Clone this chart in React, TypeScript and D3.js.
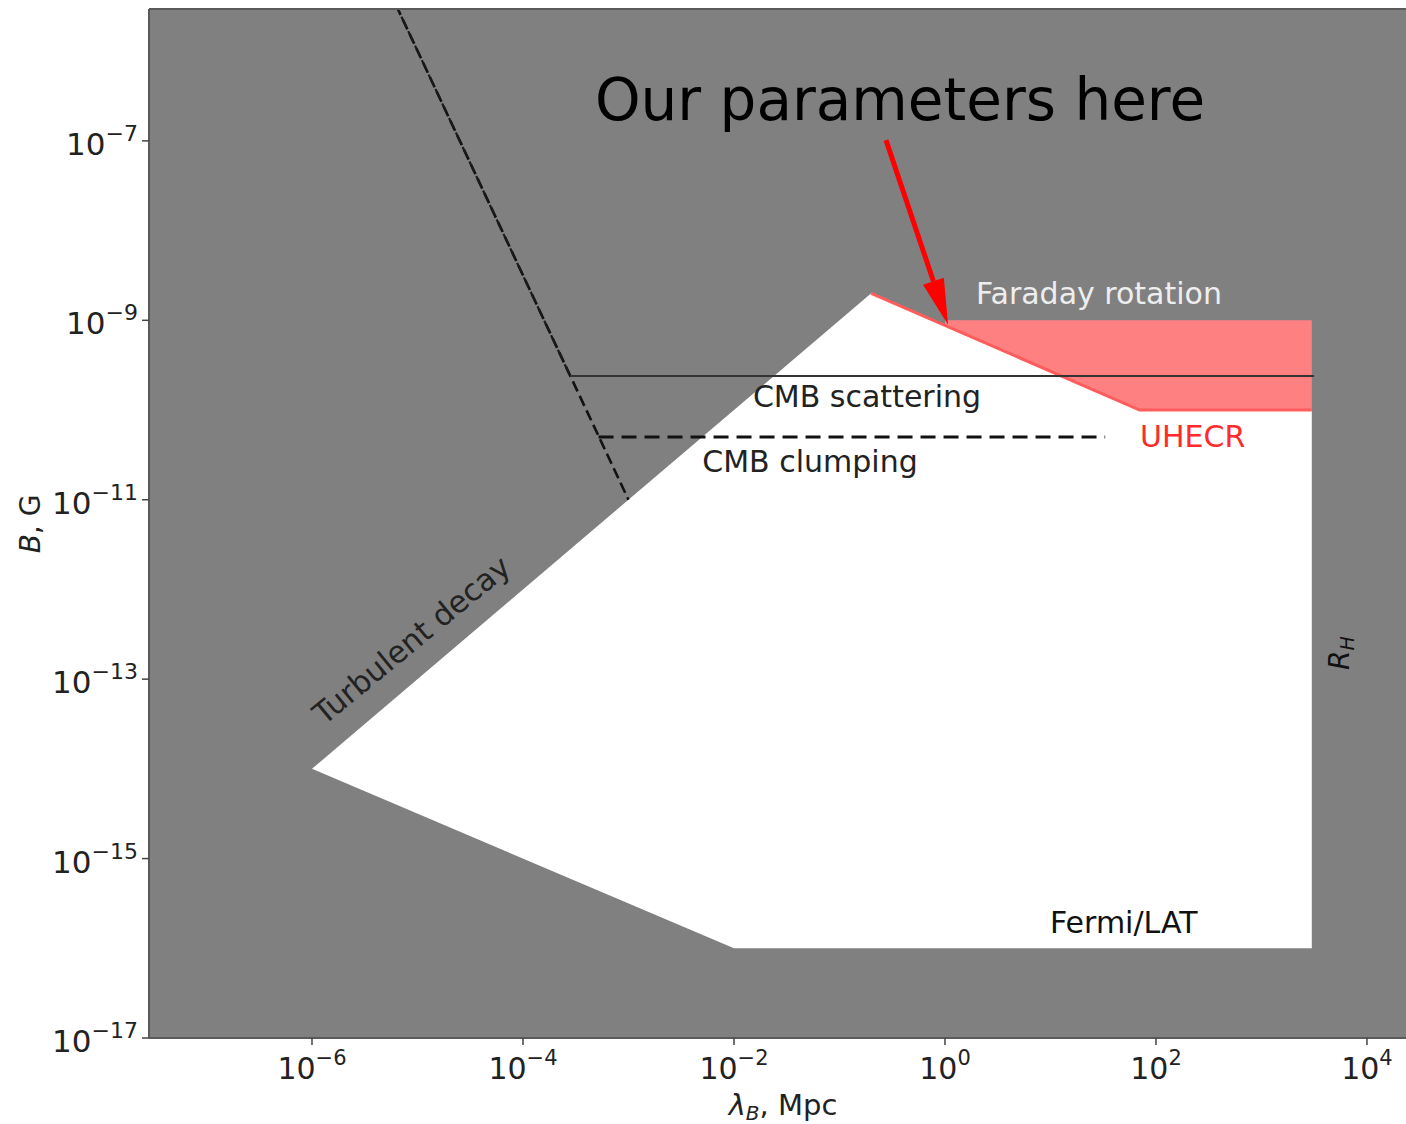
import React from "react";
import * as d3 from "d3";

// ---- data (x: lambda_B in Mpc, y: B in G) ----
const allowedRegion: [number, number][] = [
  [1e-6, 1e-14],
  [0.2, 2e-9],
  [70, 1e-10],
  [3000, 1e-10],
  [3000, 1e-16],
  [1e-2, 1e-16],
];
const uhecrLine: [number, number][] = [
  [0.2, 2e-9],
  [70, 1e-10],
  [3000, 1e-10],
];
const faradayBand: [number, number][] = [
  [1, 1e-9],
  [3000, 1e-9],
  [3000, 1e-10],
  [70, 1e-10],
  [1, 8.8e-10],
];
const dampingLineA: [number, number][] = [
  [4e-6, 1e-5],
  [1e-3, 1e-11],
];
const dampingLineB: [number, number][] = [
  [4e-6, 1e-5],
  [2.8e-4, 2.4e-10],
];
const cmbScattering: [number, number][] = [
  [2.8e-4, 2.4e-10],
  [3150, 2.4e-10],
];
const cmbClumping: [number, number][] = [
  [5.2e-4, 5e-11],
  [33, 5e-11],
];
const arrowTail: [number, number] = [0.276, 1.02e-7];
const arrowTip: [number, number] = [1.07, 8.9e-10];

const xTickExps = [-6, -4, -2, 0, 2, 4];
const yTickExps = [-17, -15, -13, -11, -9, -7];

const FONT = "DejaVu Sans, sans-serif";

export default function App() {
  const left = 149, right = 1406, top = 9, bottom = 1038;
  const x = d3.scaleLog().domain([Math.pow(10, -7.545), Math.pow(10, 4.37)]).range([left, right]);
  const y = d3.scaleLog().domain([1e-17, Math.pow(10, -5.53)]).range([bottom, top]);

  const line = d3
    .line<[number, number]>()
    .x((d) => x(d[0]))
    .y((d) => y(d[1]));
  const poly = (pts: [number, number][]) => line(pts) + "Z";

  // arrow geometry
  const tx = x(arrowTail[0]), ty = y(arrowTail[1]);
  const hx = x(arrowTip[0]), hy = y(arrowTip[1]);
  const ang = Math.atan2(hy - ty, hx - tx);
  const headLen = 46, headHalf = 11;
  const bx = hx - headLen * Math.cos(ang), by = hy - headLen * Math.sin(ang);
  const px = -Math.sin(ang), py = Math.cos(ang);
  const head = `M${hx},${hy}L${bx + headHalf * px},${by + headHalf * py}L${bx - headHalf * px},${by - headHalf * py}Z`;

  return (
    <svg
      width={1406}
      height={1124}
      style={{ position: "absolute", left: 0, top: 0, background: "#fff" }}
      fontFamily={FONT}
    >
      <defs>
        <clipPath id="plot">
          <rect x={left} y={top} width={right - left + 10} height={bottom - top} />
        </clipPath>
      </defs>
      <rect x={left} y={top} width={right - left + 10} height={bottom - top} fill="#808080" />
      <g clipPath="url(#plot)">
        <path d={poly(allowedRegion)} fill="#ffffff" />
        <path d={poly(faradayBand)} fill="#ff8080" />
        <path d={line(uhecrLine)!} fill="none" stroke="#ff5c5c" strokeWidth={3} />
        <path d={line(dampingLineA)!} fill="none" stroke="#111" strokeWidth={2.6} strokeDasharray="11 5" />
        <path d={line(dampingLineB)!} fill="none" stroke="#1a1a1a" strokeWidth={2.2} strokeDasharray="11 5" strokeDashoffset={3} />
        <path d={line(cmbScattering)!} fill="none" stroke="#333" strokeWidth={2} />
        <path d={line(cmbClumping)!} fill="none" stroke="#111" strokeWidth={3} strokeDasharray="15 8" />
      </g>

      {/* spines */}
      <line x1={left} y1={top} x2={1406} y2={top} stroke="#5a5a5a" strokeWidth={2} />
      <line x1={left} y1={top} x2={left} y2={bottom} stroke="#5a5a5a" strokeWidth={2} />
      <line x1={left} y1={bottom} x2={1406} y2={bottom} stroke="#5a5a5a" strokeWidth={2} />

      {/* x ticks */}
      {xTickExps.map((e) => {
        const xx = x(Math.pow(10, e));
        return (
          <g key={"x" + e}>
            <line x1={xx} x2={xx} y1={bottom} y2={bottom + 7} stroke="#444" strokeWidth={1.5} />
            <text x={xx} y={1079} textAnchor="middle" fontSize={30} fill="#222">
              <tspan>10</tspan>
              <tspan dy={-14} fontSize={21}>{e < 0 ? "\u2212" + Math.abs(e) : String(e)}</tspan>
            </text>
          </g>
        );
      })}
      {/* y ticks */}
      {yTickExps.map((e) => {
        const yy = y(Math.pow(10, e));
        return (
          <g key={"y" + e}>
            <line x1={left - 7} x2={left} y1={yy} y2={yy} stroke="#444" strokeWidth={1.5} />
            <text x={138} y={yy + 14} textAnchor="end" fontSize={31} fill="#222">
              <tspan>10</tspan>
              <tspan dy={-14} fontSize={22}>{"\u2212" + Math.abs(e)}</tspan>
            </text>
          </g>
        );
      })}

      {/* axis labels */}
      <text x={783} y={1115} textAnchor="middle" fontSize={29} fill="#222">
        <tspan fontStyle="italic">λ</tspan>
        <tspan fontStyle="italic" fontSize={20} dy={5}>B</tspan>
        <tspan dy={-5}>, Mpc</tspan>
      </text>
      <text transform="translate(40,524) rotate(-90)" textAnchor="middle" fontSize={28} fill="#222">
        <tspan fontStyle="italic">B</tspan>
        <tspan>, G</tspan>
      </text>

      {/* annotations */}
      <text x={867} y={407} textAnchor="middle" fontSize={30} fill="#222">CMB scattering</text>
      <text x={810} y={472} textAnchor="middle" fontSize={30} fill="#222">CMB clumping</text>
      <text x={976} y={304} fontSize={30} fill="#eeeeee">Faraday rotation</text>
      <text x={1140} y={447} fontSize={30} fill="#ff2a2a">UHECR</text>
      <text x={1050} y={933} fontSize={30} fill="#111">Fermi/LAT</text>
      <text transform="translate(324,726) rotate(-39.5)" fontSize={30.5} fill="#222">Turbulent decay</text>
      <text transform="translate(1349,653) rotate(-90)" textAnchor="middle" fontSize={28} fill="#111">
        <tspan fontStyle="italic">R</tspan>
        <tspan fontStyle="italic" fontSize={19} dy={5}>H</tspan>
      </text>

      <text x={900} y={120} textAnchor="middle" fontSize={58} fill="#000">Our parameters here</text>
      <line x1={tx} y1={ty} x2={bx} y2={by} stroke="#ff0000" strokeWidth={5} />
      <path d={head} fill="#ff0000" />
    </svg>
  );
}
